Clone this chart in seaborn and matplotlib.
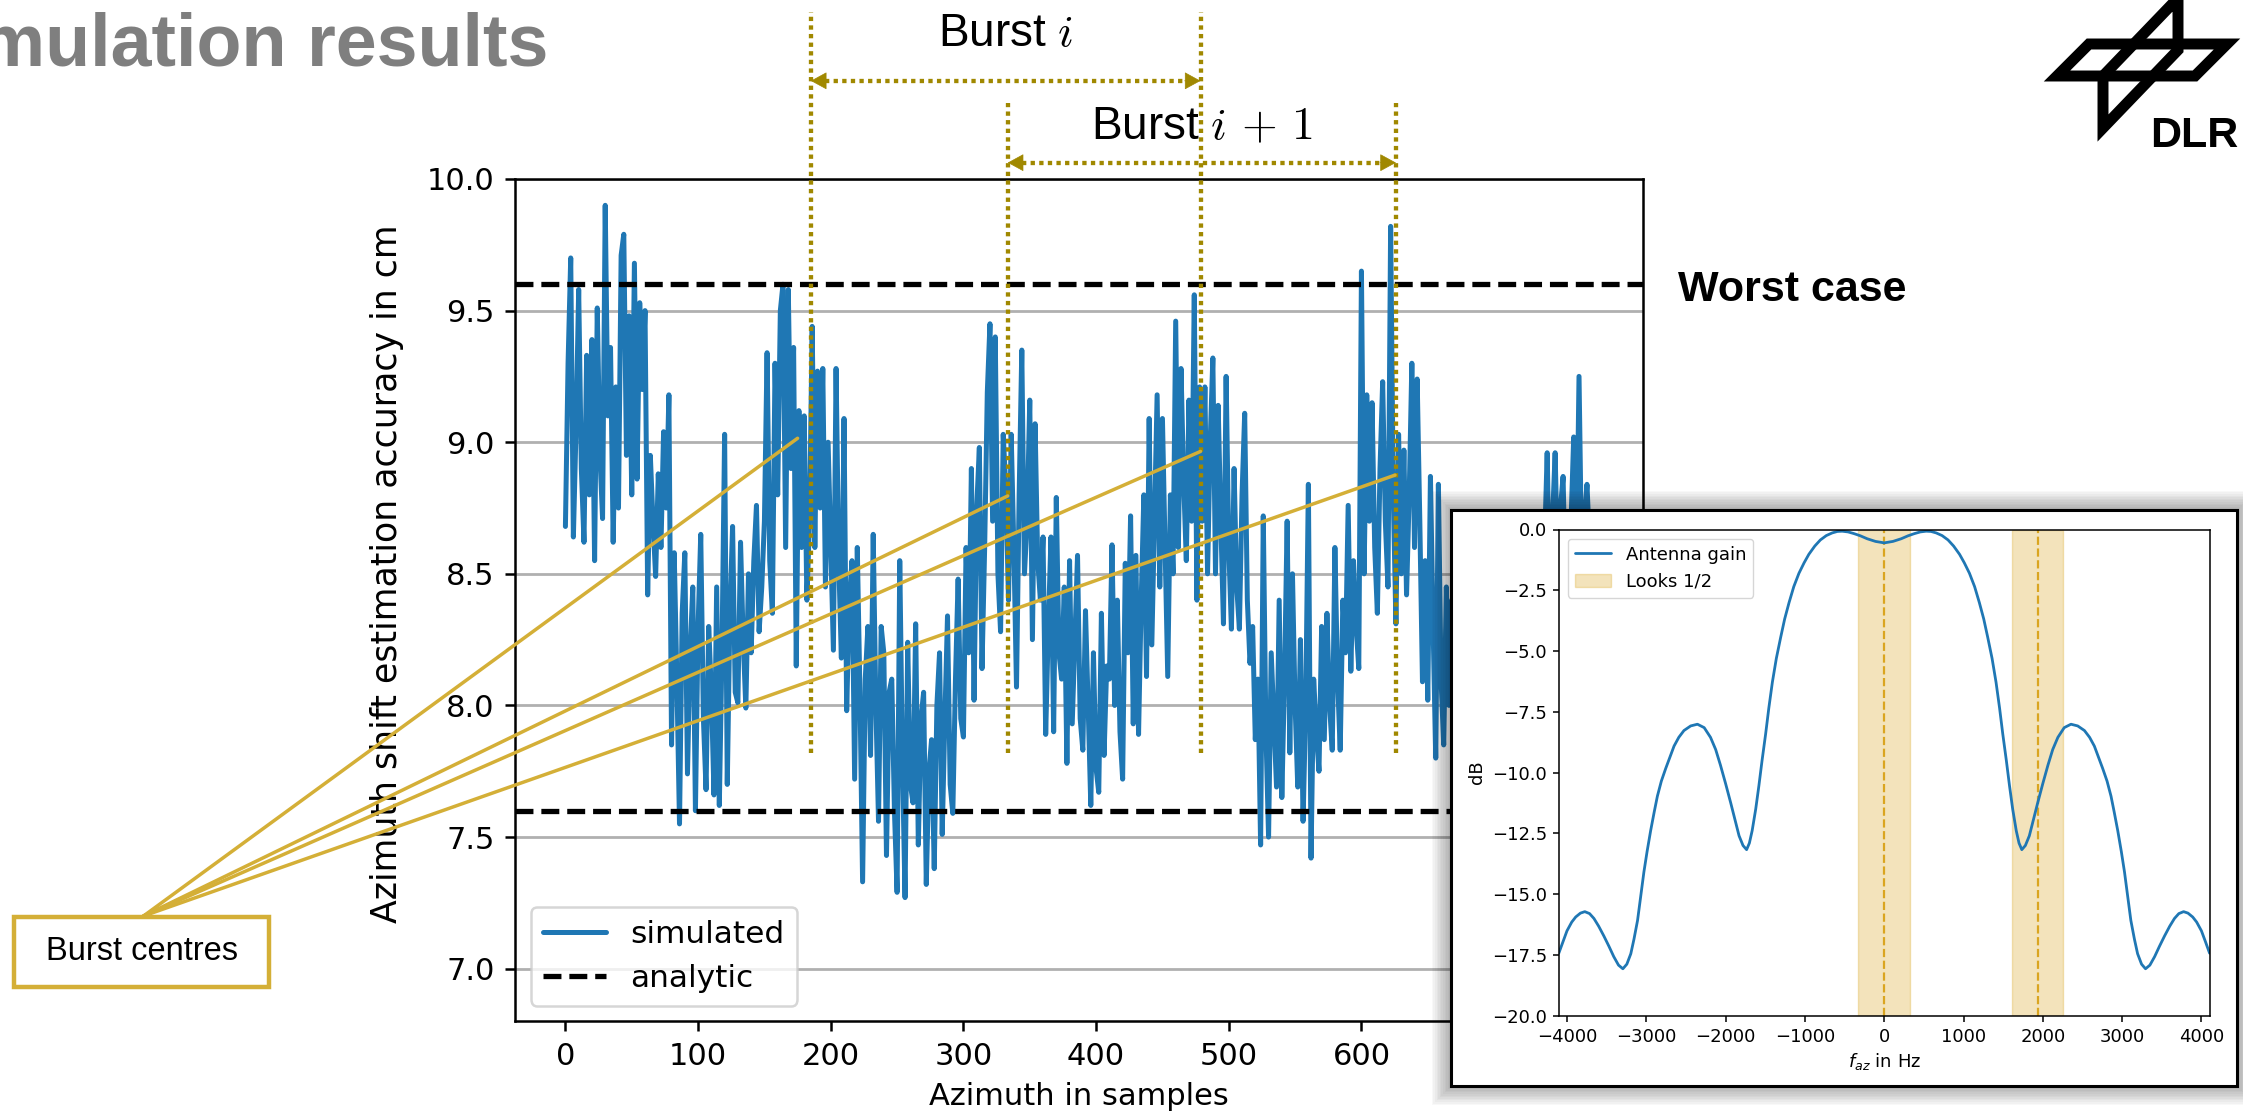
import numpy as np
import pandas as pd
import matplotlib
matplotlib.use("Agg")
import matplotlib.pyplot as plt
import seaborn as sns
from matplotlib.patches import Rectangle, Polygon, ConnectionPatch, Patch
from matplotlib.lines import Line2D

# ---------------- data ----------------
sample_step = 2  # samples between listed values (index axis)
simulated = [
    # 0 .. 78
    8.68, 9.30, 9.70, 8.64, 9.05, 9.58, 8.90, 8.62, 9.33, 8.80,
    9.39, 8.55, 9.51, 8.95, 8.71, 9.90, 9.10, 9.36, 8.62, 9.21,
    8.75, 9.71, 9.79, 8.95, 9.48, 8.80, 9.68, 8.86, 9.53, 9.20,
    9.50, 8.42, 8.95, 8.70, 8.49, 8.88, 8.60, 9.04, 8.75, 9.18,
    # 80 .. 210
    7.85, 8.58, 8.10, 7.55, 8.35, 8.58, 7.74, 8.20, 8.45, 7.60,
    8.30, 8.65, 7.95, 7.68, 8.30, 8.05, 7.66, 8.45, 7.62, 8.20,
    9.03, 7.70, 8.35, 8.68, 8.05, 8.01, 8.62, 8.25, 7.99, 8.50,
    8.20, 8.55, 8.76, 8.28, 8.45, 8.70, 9.34, 8.55, 8.35, 9.30,
    8.80, 9.50, 9.60, 8.60, 9.58, 8.90, 9.36, 8.15, 9.12, 8.60,
    9.10, 8.40, 8.70, 9.44, 8.60, 9.27, 8.75, 9.28, 8.45, 9.00,
    8.60, 8.21, 9.28, 8.55, 8.18, 9.09,
    # 212 .. 300
    7.98, 8.40, 8.55, 7.72, 8.60, 8.05, 7.33, 8.10, 8.30, 7.81,
    8.65, 8.00, 7.56, 8.30, 8.20, 7.43, 8.05, 8.10, 7.60, 7.29,
    8.55, 7.80, 7.27, 8.24, 7.70, 7.63, 8.31, 7.47, 7.95, 8.05,
    7.32, 7.75, 7.87, 7.38, 8.00, 8.20, 7.51, 7.95, 8.34, 7.70,
    7.59, 8.10, 8.48, 7.95, 7.88,
    # 302 .. 360
    8.60, 8.20, 8.90, 8.02, 8.75, 8.98, 8.14, 8.60, 9.19, 9.45,
    8.70, 9.40, 8.50, 8.28, 9.03, 8.82, 8.40, 9.03, 8.60, 8.07,
    8.80, 9.35, 8.50, 8.70, 9.16, 8.25, 9.07, 8.55, 8.40, 8.64,
    # 362 .. 440
    7.89, 8.30, 8.64, 7.90, 8.79, 8.20, 8.10, 8.45, 7.78, 8.55,
    7.93, 8.25, 8.57, 7.95, 7.83, 8.36, 8.00, 7.62, 8.20, 7.76,
    7.67, 8.35, 7.81, 8.15, 8.10, 8.61, 8.00, 8.40, 7.90, 7.72,
    8.54, 8.20, 8.72, 7.93, 8.57, 7.89, 8.40, 8.80, 8.11, 9.09,
    # 442 .. 516
    8.23, 8.70, 9.18, 8.45, 9.09, 8.60, 8.11, 8.80, 8.50, 9.46,
    8.60, 9.28, 8.85, 8.55, 9.16, 8.70, 9.56, 8.40, 9.21, 8.70,
    9.21, 8.50, 9.00, 9.32, 8.50, 9.14, 8.70, 8.31, 9.25, 8.60,
    8.29, 8.90, 8.45, 8.29, 8.80, 9.11, 8.40, 8.16,
    # 518 .. 600
    8.30, 7.87, 8.10, 7.47, 8.72, 7.90, 7.50, 8.20, 7.95, 7.69,
    8.40, 7.65, 8.10, 8.70, 7.82, 8.50, 8.00, 7.69, 8.25, 7.56,
    8.00, 8.84, 7.42, 8.10, 7.90, 7.75, 8.30, 7.87, 8.35, 8.00,
    7.83, 8.60, 8.10, 7.83, 8.40, 8.20, 8.76, 8.13, 8.55, 8.30,
    8.14, 9.65,
    # 602 .. 666
    8.50, 9.18, 8.70, 9.15, 8.60, 8.35, 8.90, 9.23, 8.70, 8.45,
    9.82, 8.80, 8.31, 9.03, 8.50, 8.97, 8.42, 8.80, 9.30, 8.60,
    9.24, 8.70, 8.09, 8.55, 8.02, 8.87, 8.30, 7.80, 8.84, 8.10,
    7.85, 8.45, 8.00,
    # 668 .. 772
    8.40, 7.95, 8.55, 8.05, 8.30, 8.60, 7.90, 8.45, 8.10, 8.65,
    8.00, 8.30, 8.50, 8.15, 8.70, 8.05, 8.40, 8.55, 8.20, 8.68,
    8.10, 8.45, 8.60, 8.25, 8.72, 8.15, 8.50, 8.62, 8.30, 8.55,
    8.35, 8.65, 8.20, 8.50, 8.30, 8.60, 8.96, 8.40, 8.70, 8.96,
    8.50, 8.75, 8.87, 8.35, 8.60, 8.70, 9.02, 8.50, 9.25, 8.55,
    8.70, 8.84, 8.60,
]
analytic_levels = [9.6, 7.6]
burst_i_edges = [185.0, 478.7]
burst_i1_edges = [333.4, 626.0]
burst_centre_x = [175.0, 333.4, 478.7, 625.3]
burst_centre_y = [9.015, 8.796, 8.965, 8.875]
main_yticks = [7.0, 7.5, 8.0, 8.5, 9.0, 9.5, 10.0]
main_xticks = [0, 100, 200, 300, 400, 500, 600, 700, 800]

gain_hz_left = [-4103, -4050, -4000, -3940, -3890, -3830, -3775, -3715, -3660, -3600,
                -3535, -3470, -3410, -3350, -3295, -3245, -3195, -3155, -3110, -3070,
                -3030, -2990, -2945, -2900, -2860, -2810, -2755, -2700, -2650, -2590,
                -2525, -2440, -2355, -2270, -2190, -2125, -2065, -2000, -1935, -1880,
                -1830, -1780, -1735, -1700, -1665, -1620, -1580, -1540, -1495, -1455,
                -1410, -1360, -1305, -1255, -1200, -1140, -1075, -1010, -950, -875,
                -805, -730, -655, -590, -530, -455, -380, -300, -215, -110, 0]
gain_db_left = [-17.43, -16.95, -16.51, -16.15, -15.94, -15.78, -15.72, -15.80, -16.00, -16.32,
                -16.72, -17.15, -17.57, -17.92, -18.07, -17.88, -17.45, -16.85, -16.08, -15.10,
                -14.09, -13.25, -12.39, -11.62, -10.97, -10.35, -9.83, -9.35, -8.91, -8.55,
                -8.27, -8.08, -8.01, -8.15, -8.55, -9.05, -9.69, -10.45, -11.25, -11.95,
                -12.60, -13.00, -13.17, -12.90, -12.39, -11.50, -10.54, -9.50, -8.41, -7.35,
                -6.28, -5.30, -4.43, -3.68, -3.01, -2.35, -1.80, -1.37, -1.02, -0.68,
                -0.43, -0.25, -0.14, -0.08, -0.07, -0.10, -0.17, -0.26, -0.38, -0.49, -0.55]
gain_hz_right = [110, 215, 300, 380, 455, 530, 590, 655, 730, 805,
                 875, 950, 1010, 1075, 1140, 1200, 1255, 1305, 1360, 1410,
                 1455, 1495, 1540, 1580, 1620, 1665, 1700, 1735, 1780, 1830,
                 1880, 1935, 2000, 2065, 2125, 2190, 2270, 2355, 2440, 2525,
                 2590, 2650, 2700, 2755, 2810, 2860, 2900, 2945, 2990, 3030,
                 3070, 3110, 3155, 3195, 3245, 3295, 3350, 3410, 3470, 3535,
                 3600, 3660, 3715, 3775, 3830, 3890, 3940, 4000, 4050, 4103]
gain_db_right = [-0.49, -0.38, -0.26, -0.17, -0.10, -0.07, -0.08, -0.14, -0.25, -0.43,
                 -0.68, -1.02, -1.37, -1.80, -2.35, -3.01, -3.68, -4.43, -5.30, -6.28,
                 -7.35, -8.41, -9.50, -10.54, -11.50, -12.39, -12.90, -13.17, -13.00, -12.60,
                 -11.95, -11.25, -10.45, -9.69, -9.05, -8.55, -8.15, -8.01, -8.08, -8.27,
                 -8.55, -8.91, -9.35, -9.83, -10.35, -10.97, -11.62, -12.39, -13.25, -14.09,
                 -15.10, -16.08, -16.85, -17.45, -17.88, -18.07, -17.92, -17.57, -17.15, -16.72,
                 -16.32, -16.00, -15.80, -15.72, -15.78, -15.94, -16.15, -16.51, -16.95, -17.43]
look_spans = [(-326, 326), (1611, 2250)]
look_lines = [0, 1934]
inset_xticks = [-4000, -3000, -2000, -1000, 0, 1000, 2000, 3000, 4000]
inset_yticks = [0.0, -2.5, -5.0, -7.5, -10.0, -12.5, -15.0, -17.5, -20.0]

# ---------------- style ----------------
sns.set_theme(style="ticks", rc={
    "axes.edgecolor": "black", "xtick.color": "black", "ytick.color": "black",
    "axes.labelcolor": "black", "text.color": "black",
})
plt.rcParams["font.family"] = ["DejaVu Sans"]
plt.rcParams["mathtext.fontset"] = "dejavusans"

BLUE = "#1f77b4"
OLIVE = "#A08800"
GOLD = "#D4AF37"
LOOK = "#DAA520"
ARIAL = "Liberation Sans"

W, H = 2243, 1117
fig = plt.figure(figsize=(W / 100, H / 100), dpi=100)
fig.patch.set_facecolor("white")


def fx(px):
    return px / W


def fy(py):
    return 1 - py / H


# ---------------- main axes ----------------
ax = fig.add_axes([fx(515), fy(1021.3), (1642.7 - 515) / W, (1021.3 - 179) / H])
df_sim = pd.DataFrame({"sample": np.arange(len(simulated)) * sample_step, "acc": simulated})
sns.lineplot(data=df_sim, x="sample", y="acc", ax=ax, color=BLUE, linewidth=3.6,
             legend=False, zorder=3)
for lvl in analytic_levels:
    ax.axhline(lvl, color="black", ls="--", lw=3.8, dashes=(3.4, 1.5), zorder=3.5)

ax.set_xlim(-38, 812)
ax.set_ylim(6.8, 10.0)
ax.set_yticks(main_yticks)
ax.set_xticks(main_xticks)
ax.yaxis.grid(True, color="#b0b0b0", lw=2.0)
ax.xaxis.grid(False)
ax.tick_params(labelsize=22, length=7.35, width=1.8, pad=7.35)
for sp in ax.spines.values():
    sp.set_linewidth(1.8)
ax.set_xlabel("Azimuth in samples", fontsize=22, labelpad=8)
ax.set_ylabel("Azimuth shift estimation accuracy in cm", fontsize=25)
ax.yaxis.set_label_coords(-0.098, 0.531)

handles = [Line2D([0], [0], color=BLUE, lw=3.6),
           Line2D([0], [0], color="black", ls="--", lw=3.8, dashes=(3.4, 1.5))]
leg = ax.legend(handles, ["simulated", "analytic"], loc="lower left", fontsize=22.5)
leg.get_frame().set_linewidth(1.8)

# burst markers (vertical dotted lines)
for x in burst_i_edges:
    ax.plot([x, x], [7.82, 10.636], color=OLIVE, lw=3.1, dashes=(1, 1),
            clip_on=False, zorder=4)
for x in burst_i1_edges:
    ax.plot([x, x], [7.82, 10.289], color=OLIVE, lw=3.1, dashes=(1, 1),
            clip_on=False, zorder=4)


def burst_arrow(x1, x2, y):
    head = 10.5
    ax.plot([x1 + head, x2 - head], [y, y], color=OLIVE, lw=3.1, dashes=(1, 1),
            clip_on=False, zorder=4)
    for tip, tail in [(x1, x1 + 12), (x2, x2 - 12)]:
        ax.annotate("", xy=(tip, y), xytext=(tail, y), annotation_clip=False,
                    arrowprops=dict(arrowstyle="-|>,head_length=0.55,head_width=0.3",
                                    color=OLIVE, lw=0.5, shrinkA=0, shrinkB=0,
                                    mutation_scale=19))


burst_arrow(burst_i_edges[0], burst_i_edges[1], 10.373)
burst_arrow(burst_i1_edges[0], burst_i1_edges[1], 10.062)
ax.text(sum(burst_i_edges) / 2, 10.505, "Burst $i$", ha="center", va="baseline",
        fontsize=33, family=ARIAL, math_fontfamily="cm", clip_on=False)
ax.text(sum(burst_i1_edges) / 2, 10.152, r"Burst $i\,+\,1$", ha="center", va="baseline",
        fontsize=33, family=ARIAL, math_fontfamily="cm", clip_on=False)

# burst centres annotation
fig.add_artist(Rectangle((fx(14), fy(987)), 255 / W, 70 / H, transform=fig.transFigure,
                         fc="white", ec=GOLD, lw=3.2, zorder=3))
fig.text(fx(141.5), fy(952), "Burst centres", ha="center", va="center", fontsize=23.5,
         family=ARIAL, zorder=4)
for cx, cy in zip(burst_centre_x, burst_centre_y):
    con = ConnectionPatch(xyA=(fx(143.5), fy(916)), coordsA=fig.transFigure,
                          xyB=(cx, cy), coordsB=ax.transData, color=GOLD, lw=2.5, zorder=3)
    fig.add_artist(con)

# texts
fig.text(fx(548), fy(65), "Simulation results", ha="right", va="baseline", fontsize=53,
         weight="bold", color="#7f7f7f", family=ARIAL)
fig.text(fx(1678), fy(301), "Worst case", ha="left", va="baseline", fontsize=31,
         weight="bold", family=ARIAL)

# DLR logo
band = [(2057, 76), (2089, 44), (2227, 44), (2195, 76)]
wing = [(2178, -2), (2178, 50), (2103, 128), (2103, 76)]
for shape in (band, wing):
    fig.add_artist(Polygon([(fx(a), fy(b)) for a, b in shape], closed=True,
                           transform=fig.transFigure, fill=False, ec="black", lw=7.9,
                           joinstyle="miter", zorder=3))
fig.text(fx(2150), fy(147), "DLR", ha="left", va="baseline", fontsize=31,
         weight="bold", family=ARIAL)

# ---------------- inset ----------------
bx0, by0, bx1, by1 = 1451, 510, 2237, 1086
for k in range(1, 13):
    p = k * 1.6
    fig.add_artist(Rectangle((fx(bx0 - p), fy(by1 + p)), (bx1 - bx0 + 2 * p) / W,
                             (by1 - by0 + 2 * p) / H, transform=fig.transFigure,
                             fc="black", ec="none", alpha=0.028, zorder=5))
fig.add_artist(Rectangle((fx(bx0), fy(by1)), (bx1 - bx0) / W, (by1 - by0) / H,
                         transform=fig.transFigure, fc="white", ec="black", lw=2.2, zorder=6))

ax2 = fig.add_axes([fx(1558.8), fy(1015.7), 650.8 / W, 486.2 / H], zorder=7)
for a, b in look_spans:
    ax2.axvspan(a, b, color=LOOK, alpha=0.3, lw=1)
for x in look_lines:
    ax2.axvline(x, color=LOOK, ls="--", lw=1.6)
df_gain = pd.DataFrame({"hz": gain_hz_left + gain_hz_right, "db": gain_db_left + gain_db_right})
sns.lineplot(data=df_gain, x="hz", y="db", ax=ax2, color=BLUE, linewidth=2.0, legend=False)
ax2.set_xlim(-4103, 4103)
ax2.set_ylim(-20, 0)
ax2.set_xticks(inset_xticks)
ax2.set_yticks(inset_yticks)
ax2.tick_params(labelsize=13, length=4.5, width=1.1, pad=4)
for sp in ax2.spines.values():
    sp.set_linewidth(1.1)
ax2.set_xlabel("$f_{az}$ in Hz", fontsize=13, labelpad=4)
ax2.set_ylabel("dB", fontsize=13, labelpad=4)
ax2.legend([Line2D([0], [0], color=BLUE, lw=2.0),
            Patch(facecolor=LOOK, edgecolor=LOOK, alpha=0.3)],
           ["Antenna gain", "Looks 1/2"], loc="upper left", fontsize=13)

fig.savefig("out.png", dpi=100)
